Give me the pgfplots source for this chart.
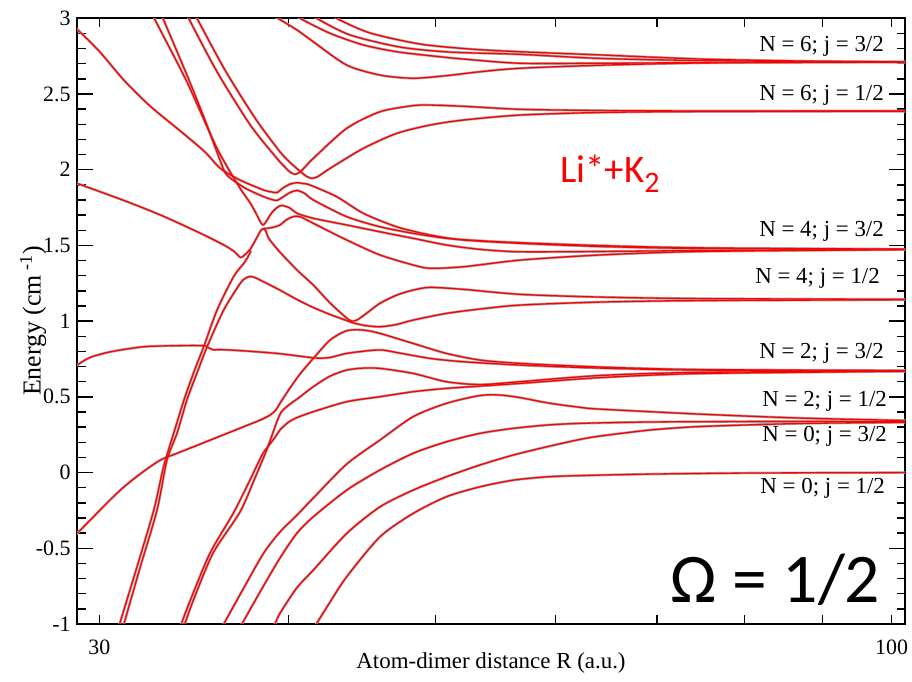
\documentclass[border=0pt]{standalone}
\usepackage{fontspec}
\setmainfont{Liberation Serif}
\newfontfamily\calib{Carlito}
\usepackage{pgfplots}
\pgfplotsset{compat=1.18}
\usepackage{pgfplotstable}

\pgfplotstableread{
R E
38.59 3.055
39.36 3.000
40.51 2.923
41.53 2.845
43.69 2.691
45.96 2.625
48.32 2.604
50.83 2.621
53.50 2.647
56.86 2.670
64.21 2.690
74.77 2.705
87.01 2.709
103 2.711
}\tTone
\pgfplotstableread{
R E
40.08 3.055
40.70 3.000
42.60 2.901
44.81 2.824
47.14 2.779
49.59 2.753
52.16 2.731
56.86 2.703
64.21 2.703
74.77 2.707
103 2.711
}\tTtwo
\pgfplotstableread{
R E
41.12 3.055
41.74 3.000
43.91 2.890
47.38 2.810
51.12 2.777
56.86 2.762
64.21 2.735
74.77 2.721
87.01 2.715
103 2.711
}\tTthree
\pgfplotstableread{
R E
42.60 3.055
43.03 3.000
45.27 2.903
48.84 2.830
52.70 2.797
56.86 2.779
64.21 2.758
74.77 2.731
87.01 2.718
103 2.712
}\tTfour
\pgfplotstableread{
R E
34.14 3.055
34.36 3.000
35.88 2.647
37.74 2.295
39.30 2.075
39.78 2.018
40.08 1.985
40.39 1.970
40.70 1.985
41.07 2.025
41.53 2.075
43.69 2.273
45.96 2.383
48.33 2.423
49.59 2.427
52.16 2.419
56.86 2.399
64.21 2.391
74.77 2.388
103 2.388
}\tUa
\pgfplotstableread{
R E
34.56 3.055
34.80 3.000
36.31 2.659
38.01 2.342
39.48 2.119
40.20 2.037
40.70 1.990
41.07 1.958
41.43 1.943
41.82 1.955
42.60 2.009
44.81 2.141
47.14 2.240
49.59 2.295
52.16 2.328
56.86 2.361
64.21 2.378
74.77 2.384
103 2.386
}\tUb
\pgfplotstableread{
R E
28.90 2.940
29.00 2.929
30.03 2.777
31.14 2.592
32.40 2.421
34.06 2.242
35.23 2.117
36.06 2.009
37.15 1.932
38.51 1.866
39.00 1.853
39.30 1.849
39.66 1.879
40.08 1.905
40.50 1.914
40.89 1.909
41.32 1.899
43.03 1.822
44.81 1.712
47.14 1.623
49.59 1.569
52.16 1.536
56.86 1.514
64.21 1.493
74.77 1.480
103 1.474
}\tAlpha
\pgfplotstableread{
R E
32.80 3.088
33.05 3.000
34.27 2.626
35.23 2.328
36.04 2.064
36.42 1.965
37.44 1.879
38.51 1.822
39.00 1.803
39.30 1.797
39.66 1.820
40.08 1.849
40.51 1.863
41.00 1.843
41.53 1.800
43.69 1.690
45.96 1.623
48.33 1.580
50.83 1.547
53.50 1.531
56.86 1.518
64.21 1.499
74.77 1.484
103 1.475
}\tLtwo
\pgfplotstableread{
R E
32.28 3.088
32.61 3.000
34.27 2.581
35.88 2.141
37.15 1.879
37.74 1.780
38.12 1.701
38.33 1.655
38.47 1.635
38.65 1.655
38.94 1.708
39.30 1.750
39.60 1.764
40.08 1.747
40.51 1.712
41.53 1.679
43.69 1.635
45.96 1.590
48.33 1.547
50.83 1.503
53.50 1.474
56.86 1.458
64.21 1.460
74.77 1.466
103 1.473
}\tLone
\pgfplotstableread{
R E
38.47 1.610
39.00 1.618
39.48 1.635
39.90 1.671
40.28 1.690
40.70 1.690
41.53 1.646
43.69 1.536
45.96 1.437
48.33 1.371
49.59 1.349
52.16 1.359
56.86 1.403
64.21 1.437
74.77 1.460
103 1.473
}\tCfour
\pgfplotstableread{
R E
28.90 1.917
29.00 1.910
31.14 1.797
32.92 1.701
34.96 1.582
36.31 1.499
36.87 1.456
37.17 1.421
37.38 1.433
37.74 1.476
38.07 1.542
38.33 1.595
38.47 1.610
38.65 1.595
38.81 1.547
39.48 1.456
40.51 1.338
41.53 1.238
42.60 1.120
43.69 1.020
44.04 1.001
44.37 1.007
44.92 1.044
45.96 1.118
47.14 1.172
48.33 1.205
49.59 1.223
52.16 1.210
56.86 1.177
64.21 1.159
74.77 1.149
103 1.144
}\tWone
\pgfplotstableread{
R E
30.91 -1.106
31.14 -1.001
31.93 -0.622
32.75 -0.248
33.25 0.083
33.76 0.259
34.27 0.479
34.80 0.657
35.34 0.831
36.24 1.073
37.17 1.250
37.49 1.285
37.74 1.295
38.01 1.288
38.42 1.265
39.48 1.205
40.51 1.143
41.53 1.090
42.60 1.044
43.69 1.004
44.04 0.991
44.92 0.971
45.96 0.963
47.14 0.978
48.33 1.007
50.83 1.051
53.50 1.080
56.86 1.106
64.21 1.126
74.77 1.136
103 1.141
}\tPoney
\pgfplotstableread{
R E
30.76 -1.106
30.94 -1.001
31.77 -0.622
32.59 -0.248
33.08 0.038
33.59 0.259
34.12 0.479
34.64 0.664
35.16 0.831
35.88 1.073
36.79 1.293
37.37 1.382
37.58 1.420
37.78 1.466
}\tPonex
\pgfplotstableread{
R E
28.90 -0.410
29.00 -0.402
30.03 -0.248
30.97 -0.116
31.91 -0.010
32.92 0.083
33.76 0.127
35.52 0.215
37.36 0.303
38.32 0.347
38.90 0.380
39.24 0.413
39.48 0.457
40.08 0.558
40.70 0.651
41.53 0.754
42.60 0.875
43.69 0.937
44.81 0.941
45.96 0.919
48.33 0.853
50.83 0.787
53.50 0.743
56.86 0.721
64.21 0.697
74.77 0.680
103 0.674
}\tG
\pgfplotstableread{
R E
28.90 0.703
29.00 0.710
29.58 0.760
30.53 0.798
32.09 0.831
33.76 0.838
35.16 0.838
35.39 0.826
35.70 0.810
36.06 0.812
37.36 0.804
39.30 0.787
40.51 0.771
41.74 0.756
42.60 0.760
43.69 0.787
45.27 0.806
46.14 0.809
47.14 0.793
49.59 0.754
52.16 0.732
56.86 0.710
64.21 0.690
74.77 0.677
103 0.672
}\tF
\pgfplotstableread{
R E
33.69 -1.106
33.98 -1.001
34.43 -0.849
35.50 -0.532
36.78 -0.268
37.72 -0.050
38.42 0.116
38.88 0.188
39.24 0.241
39.48 0.281
39.96 0.330
40.51 0.363
41.53 0.402
43.69 0.468
45.96 0.501
48.33 0.534
50.83 0.556
53.50 0.571
56.86 0.589
64.21 0.627
74.77 0.654
103 0.669
}\tPtwoa
\pgfplotstableread{
R E
33.86 -1.106
34.16 -1.001
34.59 -0.849
35.66 -0.532
37.15 -0.261
38.01 -0.036
38.69 0.149
39.12 0.281
39.36 0.353
39.60 0.406
40.08 0.452
40.51 0.485
41.53 0.567
42.60 0.637
43.69 0.677
44.81 0.690
45.96 0.688
48.33 0.655
50.83 0.600
53.50 0.581
56.86 0.600
64.21 0.641
74.77 0.662
103 0.670
}\tPtwob
\pgfplotstableread{
R E
35.76 -1.106
36.24 -1.001
37.36 -0.763
38.51 -0.532
39.48 -0.393
40.51 -0.281
41.53 -0.168
43.69 0.056
45.96 0.215
48.33 0.369
50.83 0.457
53.50 0.509
55.15 0.512
56.86 0.495
59.38 0.459
62.29 0.431
64.21 0.419
74.77 0.386
87.01 0.360
103 0.343
}\tPthree
\pgfplotstableread{
R E
36.73 -1.106
37.26 -1.001
38.30 -0.789
39.48 -0.565
40.51 -0.400
41.53 -0.292
43.69 -0.116
45.96 0.017
48.33 0.127
50.83 0.203
53.50 0.259
56.29 0.292
59.27 0.314
62.29 0.325
69.28 0.334
80.65 0.337
103 0.338
}\tPfour
\pgfplotstableread{
R E
38.78 -1.106
39.19 -1.001
39.48 -0.930
40.51 -0.760
41.53 -0.644
43.69 -0.402
45.96 -0.226
48.33 -0.116
50.83 -0.028
53.50 0.050
56.29 0.116
59.27 0.171
62.29 0.219
64.21 0.241
69.28 0.281
74.77 0.304
87.01 0.324
103 0.332
}\tPfive
\pgfplotstableread{
R E
41.06 -1.106
41.71 -1.001
42.60 -0.855
43.69 -0.688
45.96 -0.424
48.33 -0.270
50.83 -0.160
53.50 -0.094
56.29 -0.050
59.27 -0.028
62.29 -0.020
69.28 -0.010
80.65 -0.003
103 0.000
}\tPsix

\newcommand{\drawall}[1]{%
  \addplot[#1] table {\tTone};
  \addplot[#1] table {\tTtwo};
  \addplot[#1] table {\tTthree};
  \addplot[#1] table {\tTfour};
  \addplot[#1] table {\tUa};
  \addplot[#1] table {\tUb};
  \addplot[#1] table {\tAlpha};
  \addplot[#1] table {\tLtwo};
  \addplot[#1] table {\tLone};
  \addplot[#1] table {\tCfour};
  \addplot[#1] table {\tWone};
  \addplot[#1] table {\tPoney};
  \addplot[#1] table {\tPonex};
  \addplot[#1] table {\tG};
  \addplot[#1] table {\tF};
  \addplot[#1] table {\tPtwoa};
  \addplot[#1] table {\tPtwob};
  \addplot[#1] table {\tPthree};
  \addplot[#1] table {\tPfour};
  \addplot[#1] table {\tPfive};
  \addplot[#1] table {\tPsix};
}

\begin{document}
\begin{tikzpicture}
\useasboundingbox (-77bp,-58bp) rectangle (835bp,624bp);
\begin{axis}[
  scale only axis, width=828bp, height=605.7bp,
  xmode=log, xmin=29, xmax=102.07, ymin=-1, ymax=3,
  xtick=\empty,
  extra x ticks={30,40,50,60,70,80,90,100},
  extra x tick labels={30,,,,,,,100},
  extra x tick style={major tick length=9bp},
  ytick={-1,-0.5,0,0.5,1,1.5,2,2.5,3},
  yticklabels={-1,-0.5,0,0.5,1,1.5,2,2.5,3},
  minor y tick num=4,
  major tick length=16.5bp, minor tick length=8.5bp,
  tick align=inside,
  axis line style={line width=1.8bp},
  every tick/.style={black, line width=1.4bp},
  tick label style={font=\fontsize{22}{22}\selectfont},
  xticklabel style={yshift=-12bp},
  yticklabel style={xshift=-3bp},
  xlabel={Atom-dimer distance R (a.u.)},
  ylabel={Energy (cm\,\textsuperscript{-1})},
  xlabel style={font=\fontsize{23}{23}\selectfont, at={(axis description cs:0.5,-0.0644)}, anchor=center},
  ylabel style={font=\fontsize{26}{26}\selectfont, at={(axis description cs:-0.0531,0.5)}, anchor=center},
  clip=true,
]
\drawall{draw=black!32, line width=2.6bp, no markers, line join=round, smooth, tension=0.45}
\drawall{draw=red, line width=1.3bp, no markers, line join=round, smooth, tension=0.45}
\begin{scope}[every node/.style={anchor=east, inner sep=0pt, font=\fontsize{23}{23}\selectfont}]
\node at (axis description cs:0.9746,0.9531) {N = 6; j = 3/2};
\node at (axis description cs:0.9746,0.8734) {N = 6; j = 1/2};
\node at (axis description cs:0.9746,0.6477) {N = 4; j = 3/2};
\node at (axis description cs:0.9698,0.5707) {N = 4; j = 1/2};
\node at (axis description cs:0.9746,0.4469) {N = 2; j = 3/2};
\node at (axis description cs:0.9783,0.3670) {N = 2; j = 1/2};
\node at (axis description cs:0.9783,0.3092) {N = 0; j = 3/2};
\node at (axis description cs:0.9760,0.2240) {N = 0; j = 1/2};
\end{scope}
\node[anchor=base west, inner sep=0pt, text=red, font=\calib\fontsize{39}{39}\selectfont] at (axis description cs:0.5833,0.7297) {Li*+K\raisebox{-0.28em}{\fontsize{30}{30}\selectfont 2}};
\node[anchor=base west, inner sep=0pt, font=\calib\fontsize{70}{70}\selectfont] at (axis description cs:0.716,0.0347) {Ω = 1/2};
\end{axis}
\end{tikzpicture}
\end{document}
